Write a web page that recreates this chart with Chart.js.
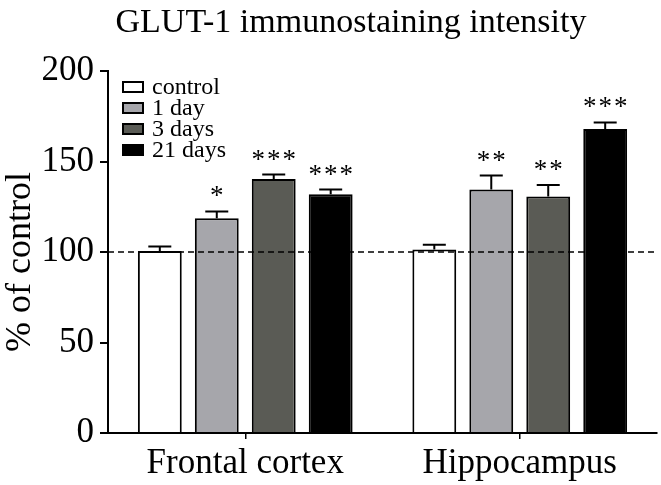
<!DOCTYPE html>
<html>
<head>
<meta charset="utf-8">
<script src="https://cdn.jsdelivr.net/npm/chart.js@4/dist/chart.umd.min.js"></script>
<style>
  html, body { margin: 0; padding: 0; background: #ffffff; }
  #wrap { width: 661px; height: 485px; position: relative; }
</style>
</head>
<body>
<div id="wrap"><canvas id="c" width="661" height="485"></canvas></div>
<script>
// ---- data ----
const categories = ['Frontal cortex', 'Hippocampus'];
const seriesLabels = ['control', '1 day', '3 days', '21 days'];
const controlValues = [100.5, 101.4];
const day1Values = [118.7, 134.5];
const day3Values = [140.3, 130.6];
const day21Values = [131.9, 167.9];
const controlErrors = [2.5, 2.6];
const day1Errors = [3.7, 7.7];
const day3Errors = [2.5, 6.4];
const day21Errors = [2.6, 3.7];
const controlSig = ['', ''];
const day1Sig = ['*', '**'];
const day3Sig = ['***', '**'];
const day21Sig = ['***', '***'];
const yTicks = [0, 50, 100, 150, 200];
const referenceLine = 100;
const titleText = 'GLUT-1 immunostaining intensity';
const yTitle = '% of control';

const colors = ['#ffffff', '#a6a6ab', '#5a5b55', '#000000'];
const serif = "'Liberation Serif', 'Times New Roman', serif";

const valueSets = [controlValues, day1Values, day3Values, day21Values];
const errorSets = [controlErrors, day1Errors, day3Errors, day21Errors];
const sigSets = [controlSig, day1Sig, day3Sig, day21Sig];

const datasets = seriesLabels.map((lab, i) => ({
  label: lab,
  data: valueSets[i],
  errors: errorSets[i],
  sig: sigSets[i],
  backgroundColor: colors[i],
  borderColor: '#000000',
  borderWidth: 2,
  borderSkipped: 'bottom',
  categoryPercentage: 0.83,
  barPercentage: 0.77
}));

const extrasPlugin = {
  id: 'extras',
  afterDatasetsDraw(chart) {
    const ctx = chart.ctx;
    const y = chart.scales.y;
    const area = chart.chartArea;
    ctx.save();
    // error bars + significance
    chart.data.datasets.forEach((ds, di) => {
      const meta = chart.getDatasetMeta(di);
      meta.data.forEach((el, i) => {
        const top = y.getPixelForValue(ds.data[i] + ds.errors[i]);
        ctx.strokeStyle = '#000';
        ctx.lineWidth = 2;
        ctx.beginPath();
        ctx.moveTo(el.x, el.y);
        ctx.lineTo(el.x, top);
        ctx.moveTo(el.x - 11.5, top);
        ctx.lineTo(el.x + 11.5, top);
        ctx.stroke();
        if (ds.sig[i]) {
          ctx.fillStyle = '#000';
          ctx.font = '27px ' + serif;
          ctx.textAlign = 'center';
          ctx.textBaseline = 'alphabetic';
          if ('letterSpacing' in ctx) ctx.letterSpacing = '2px';
          ctx.fillText(ds.sig[i], el.x + 1, top - 7);
          if ('letterSpacing' in ctx) ctx.letterSpacing = '0px';
        }
      });
    });
    // dashed reference line
    const ry = y.getPixelForValue(referenceLine);
    ctx.setLineDash([6, 4]);
    ctx.lineWidth = 1.5;
    ctx.strokeStyle = '#000';
    ctx.beginPath();
    ctx.moveTo(area.left, ry);
    ctx.lineTo(area.right, ry);
    ctx.stroke();
    ctx.setLineDash([]);
    // legend
    ctx.font = '24px ' + serif;
    ctx.textAlign = 'left';
    ctx.textBaseline = 'middle';
    chart.data.datasets.forEach((ds, i) => {
      const cy = 87 + i * 21;
      ctx.fillStyle = ds.backgroundColor;
      ctx.fillRect(123, cy - 5, 20, 10);
      ctx.strokeStyle = '#000';
      ctx.lineWidth = 2;
      ctx.strokeRect(123, cy - 5, 20, 10);
      ctx.fillStyle = '#000';
      ctx.fillText(ds.label, 152, cy + 1);
    });
    // title
    ctx.font = '34px ' + serif;
    ctx.textAlign = 'center';
    ctx.textBaseline = 'alphabetic';
    ctx.fillText(titleText, 351, 32);
    // y title
    ctx.save();
    ctx.translate(30, 262);
    ctx.rotate(-Math.PI / 2);
    ctx.font = '36px ' + serif;
    ctx.textAlign = 'center';
    ctx.textBaseline = 'alphabetic';
    ctx.fillText(yTitle, 0, 0);
    ctx.restore();
    ctx.restore();
  }
};

new Chart(document.getElementById('c'), {
  type: 'bar',
  data: { labels: categories, datasets: datasets },
  options: {
    responsive: false,
    animation: false,
    devicePixelRatio: 1,
    layout: { padding: { top: 71, right: 4, left: 0, bottom: 0 } },
    plugins: { legend: { display: false }, tooltip: { enabled: false }, title: { display: false } },
    scales: {
      x: {
        grid: { display: true, drawOnChartArea: false, offset: false, tickLength: 6, tickColor: '#000', lineWidth: 1.5 },
        border: { display: true, color: '#000', width: 2 },
        ticks: { color: '#000', font: { family: serif, size: 35 }, padding: 4 },
        afterFit(s) { s.height = 52; }
      },
      y: {
        min: 0, max: 200,
        afterBuildTicks(s) { s.ticks = yTicks.map(v => ({ value: v })); },
        grid: { display: true, drawOnChartArea: false, tickLength: 8, tickColor: '#000', lineWidth: 2 },
        border: { display: true, color: '#000', width: 2 },
        ticks: { color: '#000', font: { family: serif, size: 35 }, padding: 6 },
        afterFit(s) { s.width = 108; }
      }
    }
  },
  plugins: [extrasPlugin]
});
</script>
</body>
</html>
